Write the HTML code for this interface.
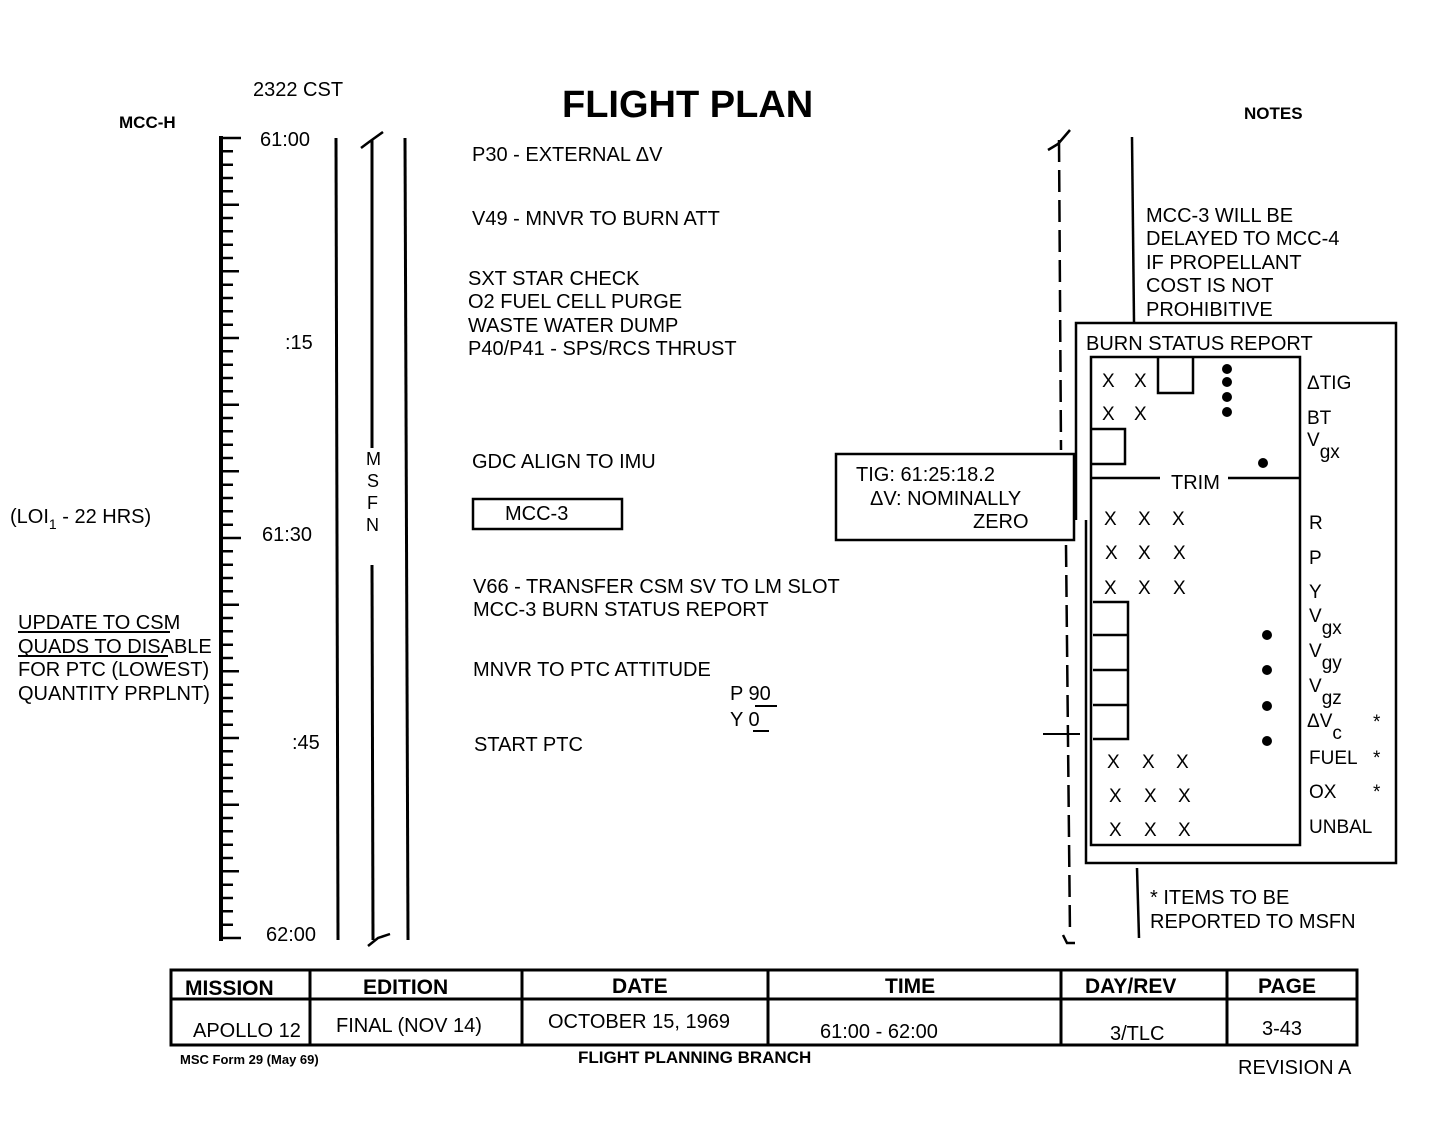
<!DOCTYPE html>
<html><head><meta charset="utf-8"><style>
body{margin:0;background:#fff}
svg{display:block}
text{font-family:"Liberation Sans",sans-serif;fill:#000}
.t{font-size:20px}
.b{font-weight:bold}
</style></head><body>
<svg width="1453" height="1128" viewBox="0 0 1453 1128" xmlns="http://www.w3.org/2000/svg">
<g stroke="#000" fill="none">
<line x1="221" y1="136" x2="221" y2="941" stroke-width="4"/>
<path stroke-width="2.5" d="M221 138h20M221 151.3h12M221 164.7h12M221 178h12M221 191.3h12M221 204.7h18M221 218h12M221 231.3h12M221 244.7h12M221 258h12M221 271.3h18M221 284.7h12M221 298h12M221 311.3h12M221 324.7h12M221 338h18M221 351.3h12M221 364.7h12M221 378h12M221 391.3h12M221 404.7h18M221 418h12M221 431.3h12M221 444.7h12M221 458h12M221 471.3h18M221 484.7h12M221 498h12M221 511.3h12M221 524.7h12M221 538h20M221 551.3h12M221 564.7h12M221 578h12M221 591.3h12M221 604.7h18M221 618h12M221 631.3h12M221 644.7h12M221 658h12M221 671.3h18M221 684.7h12M221 698h12M221 711.3h12M221 724.7h12M221 738h18M221 751.3h12M221 764.7h12M221 778h12M221 791.3h12M221 804.7h18M221 818h12M221 831.3h12M221 844.7h12M221 858h12M221 871.3h18M221 884.7h12M221 898h12M221 911.3h12M221 924.7h12M221 938h20"/>
<line x1="336" y1="138" x2="338" y2="940" stroke-width="3"/>
<line x1="372" y1="140" x2="372" y2="448" stroke-width="3"/>
<line x1="372" y1="565" x2="373" y2="940" stroke-width="3"/>
<path d="M361 148l8-6 l14-10" stroke-width="2.5"/>
<path d="M368 946l10-8 l12-4" stroke-width="2.5"/>
<line x1="405" y1="138" x2="408" y2="940" stroke-width="3"/>
<line x1="1059" y1="140" x2="1061" y2="450" stroke-width="2.5" stroke-dasharray="22,8"/>
<line x1="1066" y1="545" x2="1070" y2="935" stroke-width="2.5" stroke-dasharray="22,8"/>
<path d="M1048 150l10-6 l12-14" stroke-width="2.5"/>
<path d="M1063 935l4 8 l8 0" stroke-width="2.5"/>
<line x1="1132" y1="137" x2="1134" y2="322" stroke-width="2.5"/>
<line x1="1137" y1="868" x2="1139" y2="938" stroke-width="2.5"/>
<line x1="1043" y1="734" x2="1080" y2="734" stroke-width="2"/>
<rect x="836" y="454" width="238" height="86" stroke-width="2.5"/>
<rect x="473" y="499" width="149" height="30" stroke-width="2.5"/>
<path d="M1076 520V323H1396V863H1086V520" stroke-width="2.5"/>
<rect x="1091" y="357" width="209" height="488" stroke-width="2.5"/>
<line x1="1091" y1="478" x2="1160" y2="478" stroke-width="2.5"/>
<line x1="1228" y1="478" x2="1300" y2="478" stroke-width="2.5"/>
<path d="M1158 358v35h35v-35" stroke-width="2.5"/>
<path d="M1091 429h34v35h-34" stroke-width="2.5"/>
<path d="M1093 602h35v137h-35M1093 635h35M1093 670h35M1093 705h35" stroke-width="2.5"/>
<path d="M18 632h152M18 656h150M755 706h22M753 731h16" stroke-width="2"/>
<rect x="171" y="970" width="1186" height="75" stroke-width="3"/>
<line x1="171" y1="999" x2="1357" y2="999" stroke-width="3"/>
<path d="M310 970v75M522 970v75M768 970v75M1061 970v75M1227 970v75" stroke-width="3"/>
</g>
<g fill="#000">
<circle cx="1227" cy="369" r="5"/><circle cx="1227" cy="382" r="5"/><circle cx="1227" cy="397" r="5"/><circle cx="1227" cy="412" r="5"/>
<circle cx="1263" cy="463" r="5"/>
<circle cx="1267" cy="635" r="5"/><circle cx="1267" cy="670" r="5"/><circle cx="1267" cy="706" r="5"/><circle cx="1267" cy="741" r="5"/>
</g>
<text x="562" y="117" class="b" font-size="38">FLIGHT PLAN</text>
<text x="253" y="96" class="t">2322 CST</text>
<text x="119" y="128" class="b" font-size="17">MCC-H</text>
<text x="1244" y="119" class="b" font-size="17">NOTES</text>
<g class="t">
<text x="260" y="146">61:00</text>
<text x="285" y="349">:15</text>
<text x="262" y="541">61:30</text>
<text x="292" y="749">:45</text>
<text x="266" y="941">62:00</text>
<text x="366" y="465" font-size="18">M</text><text x="367" y="487" font-size="18">S</text><text x="367" y="509" font-size="18">F</text><text x="366" y="531" font-size="18">N</text>
<text x="10" y="523">(LOI<tspan font-size="14" dy="6">1</tspan><tspan dy="-6"> - 22 HRS)</tspan></text>
<text x="18" y="629">UPDATE TO CSM</text>
<text x="18" y="653">QUADS TO DISABLE</text>
<text x="18" y="676">FOR PTC (LOWEST)</text>
<text x="18" y="700">QUANTITY PRPLNT)</text>
<text x="472" y="161">P30 - EXTERNAL ΔV</text>
<text x="472" y="225">V49 - MNVR TO BURN ATT</text>
<text x="468" y="285">SXT STAR CHECK</text>
<text x="468" y="308">O2 FUEL CELL PURGE</text>
<text x="468" y="332">WASTE WATER DUMP</text>
<text x="468" y="355">P40/P41 - SPS/RCS THRUST</text>
<text x="472" y="468">GDC ALIGN TO IMU</text>
<text x="505" y="520">MCC-3</text>
<text x="473" y="593">V66 - TRANSFER CSM SV TO LM SLOT</text>
<text x="473" y="616">MCC-3 BURN STATUS REPORT</text>
<text x="473" y="676">MNVR TO PTC ATTITUDE</text>
<text x="730" y="700">P 90</text>
<text x="730" y="726">Y 0</text>
<text x="474" y="751">START PTC</text>
<text x="856" y="481">TIG:  61:25:18.2</text>
<text x="870" y="505">ΔV:  NOMINALLY</text>
<text x="973" y="528">ZERO</text>
<text x="1146" y="222">MCC-3 WILL BE</text>
<text x="1146" y="245">DELAYED TO MCC-4</text>
<text x="1146" y="269">IF PROPELLANT</text>
<text x="1146" y="292">COST IS NOT</text>
<text x="1146" y="316">PROHIBITIVE</text>
<text x="1086" y="350">BURN STATUS REPORT</text>
<text x="1171" y="489">TRIM</text>
<text x="1150" y="904">* ITEMS TO BE</text>
<text x="1150" y="928">REPORTED TO MSFN</text>
</g>
<g font-size="19">
<text x="1102" y="387">X</text><text x="1134" y="387">X</text>
<text x="1102" y="420">X</text><text x="1134" y="420">X</text>
<text x="1104" y="525">X</text><text x="1138" y="525">X</text><text x="1172" y="525">X</text>
<text x="1105" y="559">X</text><text x="1138" y="559">X</text><text x="1173" y="559">X</text>
<text x="1104" y="594">X</text><text x="1138" y="594">X</text><text x="1173" y="594">X</text>
<text x="1107" y="768">X</text><text x="1142" y="768">X</text><text x="1176" y="768">X</text>
<text x="1109" y="802">X</text><text x="1144" y="802">X</text><text x="1178" y="802">X</text>
<text x="1109" y="836">X</text><text x="1144" y="836">X</text><text x="1178" y="836">X</text>
<text x="1307" y="389">ΔTIG</text>
<text x="1307" y="424">BT</text>
<text x="1307" y="446">V<tspan dy="12">gx</tspan></text>
<text x="1309" y="529">R</text>
<text x="1309" y="564">P</text>
<text x="1309" y="598">Y</text>
<text x="1309" y="622">V<tspan dy="12">gx</tspan></text>
<text x="1309" y="657">V<tspan dy="12">gy</tspan></text>
<text x="1309" y="692">V<tspan dy="12">gz</tspan></text>
<text x="1307" y="727">ΔV<tspan dy="12">c</tspan></text>
<text x="1309" y="764">FUEL</text>
<text x="1309" y="798">OX</text>
<text x="1309" y="833">UNBAL</text>
<text x="1373" y="728">*</text><text x="1373" y="764">*</text><text x="1373" y="798">*</text>
</g>
<g class="b" font-size="21">
<text x="185" y="995">MISSION</text>
<text x="363" y="994">EDITION</text>
<text x="612" y="993">DATE</text>
<text x="885" y="993">TIME</text>
<text x="1085" y="993">DAY/REV</text>
<text x="1258" y="993">PAGE</text>
</g>
<g class="t">
<text x="193" y="1037">APOLLO 12</text>
<text x="336" y="1032">FINAL (NOV 14)</text>
<text x="548" y="1028">OCTOBER 15, 1969</text>
<text x="820" y="1038">61:00 - 62:00</text>
<text x="1110" y="1040">3/TLC</text>
<text x="1262" y="1035">3-43</text>
<text x="1238" y="1074">REVISION A</text>
</g>
<text x="180" y="1064" class="b" font-size="13">MSC Form 29 (May 69)</text>
<text x="578" y="1063" class="b" font-size="17">FLIGHT PLANNING BRANCH</text>
</svg>
</body></html>
